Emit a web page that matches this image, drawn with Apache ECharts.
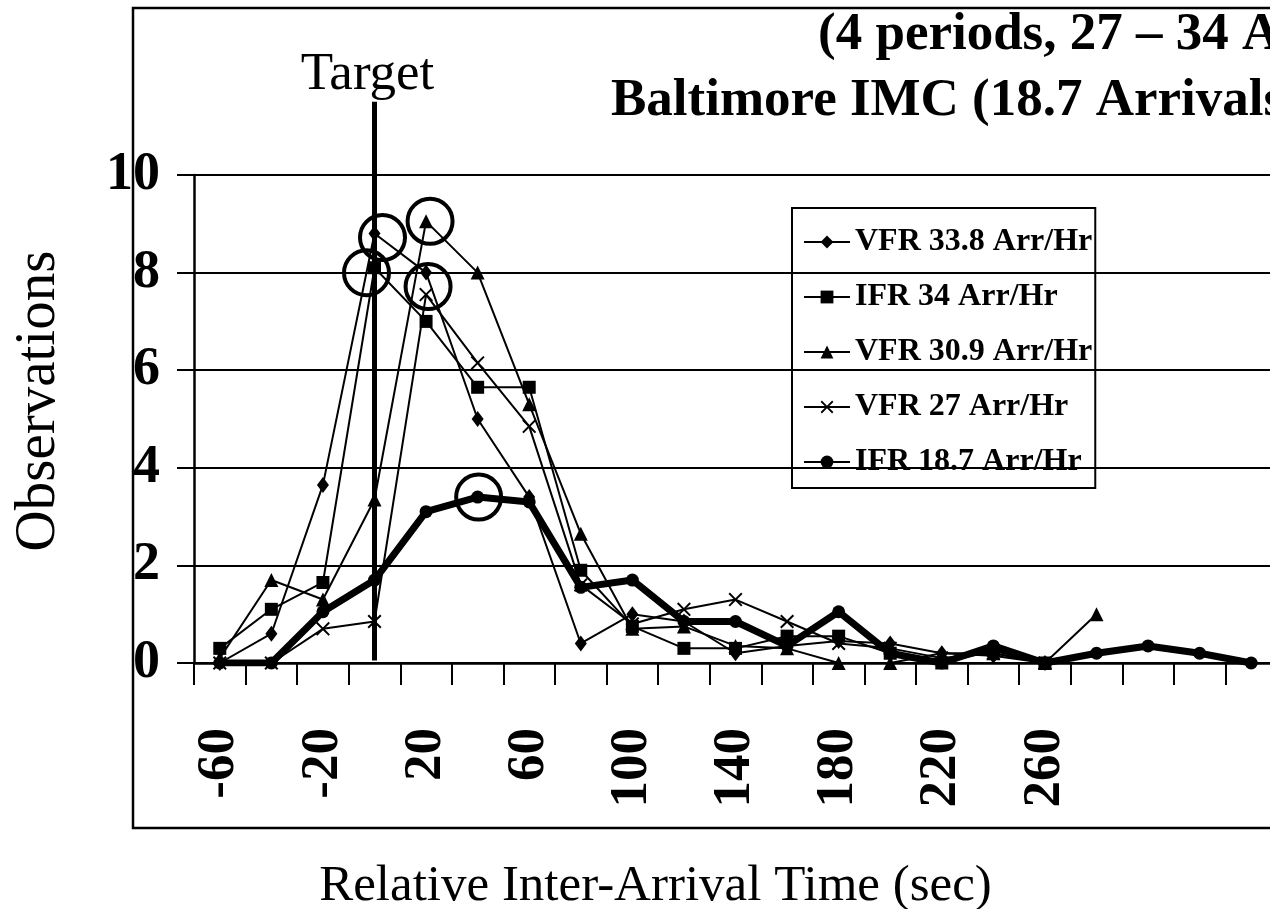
<!DOCTYPE html>
<html>
<head>
<meta charset="utf-8">
<title>Baltimore IMC inter-arrival</title>
<script src="https://cdn.jsdelivr.net/npm/echarts/dist/echarts.min.js"></script>
<style>
  html, body { margin: 0; padding: 0; background: #fff; }
  #chart { width: 1270px; height: 909px; }
</style>
</head>
<body>
<div id="chart"></div>
<script>
// relative inter-arrival time bins (sec)
const timeBins = ["-60", "-40", "-20", "0", "20", "40", "60", "80", "100", "120", "140",
  "160", "180", "200", "220", "240", "260", "280", "300", "320", "340"];

// observations per bin
const vfr338 = [0, 0.6, 3.65, 8.8, 8.0, 5.0, 3.4, 0.4, 1.0, 0.85, 0.2, 0.35, 0.45, 0.4, 0.2, 0.15, 0, null, null, null, null];
const ifr34 = [0.3, 1.1, 1.65, 8.1, 7.0, 5.65, 5.65, 1.9, 0.75, 0.3, 0.3, 0.55, 0.55, 0.2, 0, 0.25, 0, null, null, null, null];
const vfr309 = [0.1, 1.7, 1.3, 3.35, 9.05, 8.0, 5.3, 2.65, 0.7, 0.75, 0.35, 0.3, 0, 0, 0.2, 0.2, 0, 1.0, null, null, null];
const vfr27 = [0, 0, 0.7, 0.85, 7.55, 6.15, 4.85, 1.6, 0.8, 1.1, 1.3, 0.85, 0.4, 0.3, 0.1, 0.2, 0, null, null, null, null];
const ifr187 = [0, 0, 1.05, 1.7, 3.1, 3.4, 3.3, 1.55, 1.7, 0.85, 0.85, 0.35, 1.05, 0.2, 0, 0.35, 0, 0.2, 0.35, 0.2, 0];

const seriesNames = ["VFR 33.8 Arr/Hr", "IFR 34 Arr/Hr", "VFR 30.9 Arr/Hr", "VFR 27 Arr/Hr", "IFR 18.7 Arr/Hr"];

// target marker and the circled peaks
const targetBin = "0";
const targetSpan = [0.05, 11.5];
const circled = [
  { bin: "0", value: vfr338[3], off: [8, 4] },
  { bin: "0", value: ifr34[3], off: [-8, 5] },
  { bin: "20", value: vfr309[4], off: [4, 0] },
  { bin: "20", value: vfr338[4], off: [2, 14] },
  { bin: "40", value: ifr187[5], off: [1, 0] },
];

const serif = "'Liberation Serif', 'Times New Roman', serif";
const crossPath = "path://M0,1 L1,0 L5,4 L9,0 L10,1 L6,5 L10,9 L9,10 L5,6 L1,10 L0,9 L4,5 Z";

function lineSeries(name, data, symbol, size, width) {
  return {
    name: name,
    type: "line",
    data: data,
    symbol: symbol,
    symbolSize: size,
    showAllSymbol: true,
    lineStyle: { color: "#000", width: width },
    itemStyle: { color: "#000" },
    emphasis: { disabled: true },
    z: 3,
  };
}

var myChart = echarts.init(document.getElementById("chart"));
myChart.setOption({
  animation: false,
  backgroundColor: "#fff",
  title: [
    {
      text: "(4 periods, 27 – 34 Arrivals/Hr)",
      left: 813,
      top: 4,
      textStyle: { fontFamily: serif, fontWeight: "bold", fontSize: 53, color: "#000" },
    },
    {
      text: "Baltimore IMC (18.7 Arrivals/Hr)",
      left: 606,
      top: 70,
      textStyle: { fontFamily: serif, fontWeight: "bold", fontSize: 53, color: "#000" },
    },
  ],
  graphic: [
    {
      type: "rect",
      shape: { x: 133, y: 8, width: 1250, height: 820 },
      style: { fill: "none", stroke: "#000", lineWidth: 2.5 },
      z: -1,
    },
  ],
  legend: {
    data: seriesNames,
    orient: "vertical",
    left: 792,
    top: 208,
    padding: [18, 3, 10, 11],
    itemGap: 23,
    itemWidth: 46,
    itemHeight: 16,
    borderColor: "#000",
    borderWidth: 2,
    lineStyle: { width: 2 },
    textStyle: { fontFamily: serif, fontWeight: "bold", fontSize: 32, lineHeight: 32, color: "#000" },
  },
  grid: { left: 194, top: 175, width: 1083, height: 488, outerBoundsMode: "none", containLabel: false },
  xAxis: {
    type: "category",
    data: timeBins,
    boundaryGap: true,
    axisLine: { lineStyle: { color: "#000", width: 2.5 } },
    axisTick: { show: true, interval: 0, length: 22, lineStyle: { color: "#000", width: 2 } },
    axisLabel: {
      interval: function (index) {
        return index % 2 === 0 && index <= 16;
      },
      rotate: 90,
      margin: 65,
      fontFamily: serif,
      fontWeight: "bold",
      fontSize: 53,
      color: "#000",
    },
    splitLine: { show: false },
    name: "Relative Inter-Arrival Time (sec)",
    nameLocation: "middle",
    nameGap: 198,
    nameTextStyle: { fontFamily: serif, fontSize: 51, color: "#000", padding: [0, 160, 0, 0] },
  },
  yAxis: {
    type: "value",
    min: 0,
    max: 10,
    interval: 2,
    axisLine: { show: true, lineStyle: { color: "#000", width: 2.5 } },
    axisTick: { show: true, length: 17, lineStyle: { color: "#000", width: 2 } },
    splitLine: { lineStyle: { color: "#000", width: 2 } },
    axisLabel: { margin: 34, fontFamily: serif, fontWeight: "bold", fontSize: 54, color: "#000" },
    name: "Observations",
    nameLocation: "middle",
    nameGap: 126,
    nameTextStyle: { fontFamily: serif, fontSize: 57, color: "#000", padding: [0, 0, 0, 36] },
  },
  series: [
    lineSeries(seriesNames[0], vfr338, "diamond", [12, 16], 2),
    lineSeries(seriesNames[1], ifr34, "rect", 13, 2),
    lineSeries(seriesNames[2], vfr309, "triangle", 14, 2),
    lineSeries(seriesNames[3], vfr27, crossPath, 14, 2),
    Object.assign(lineSeries(seriesNames[4], ifr187, "circle", 13, 7), { z: 4 }),
    {
      name: "Target",
      type: "line",
      clip: false,
      data: [
        [timeBins.indexOf(targetBin), targetSpan[0]],
        {
          value: [timeBins.indexOf(targetBin), targetSpan[1]],
          label: {
            show: true,
            position: "top",
            distance: 4,
            offset: [-7, 4],
            formatter: "Target",
            fontFamily: serif,
            fontSize: 53,
            color: "#000",
          },
        },
      ],
      symbol: "circle",
      symbolSize: 0,
      lineStyle: { color: "#000", width: 5 },
      itemStyle: { color: "#000" },
      emphasis: { disabled: true },
      z: 4,
    },
    {
      name: "circled",
      type: "scatter",
      data: circled.map(function (c) {
        return { value: [timeBins.indexOf(c.bin), c.value], symbolOffset: c.off };
      }),
      symbol: "circle",
      symbolSize: 45,
      itemStyle: { color: "rgba(0,0,0,0)", borderColor: "#000", borderWidth: 4, opacity: 1 },
      silent: true,
      z: 5,
    },
  ],
});
</script>
</body>
</html>
